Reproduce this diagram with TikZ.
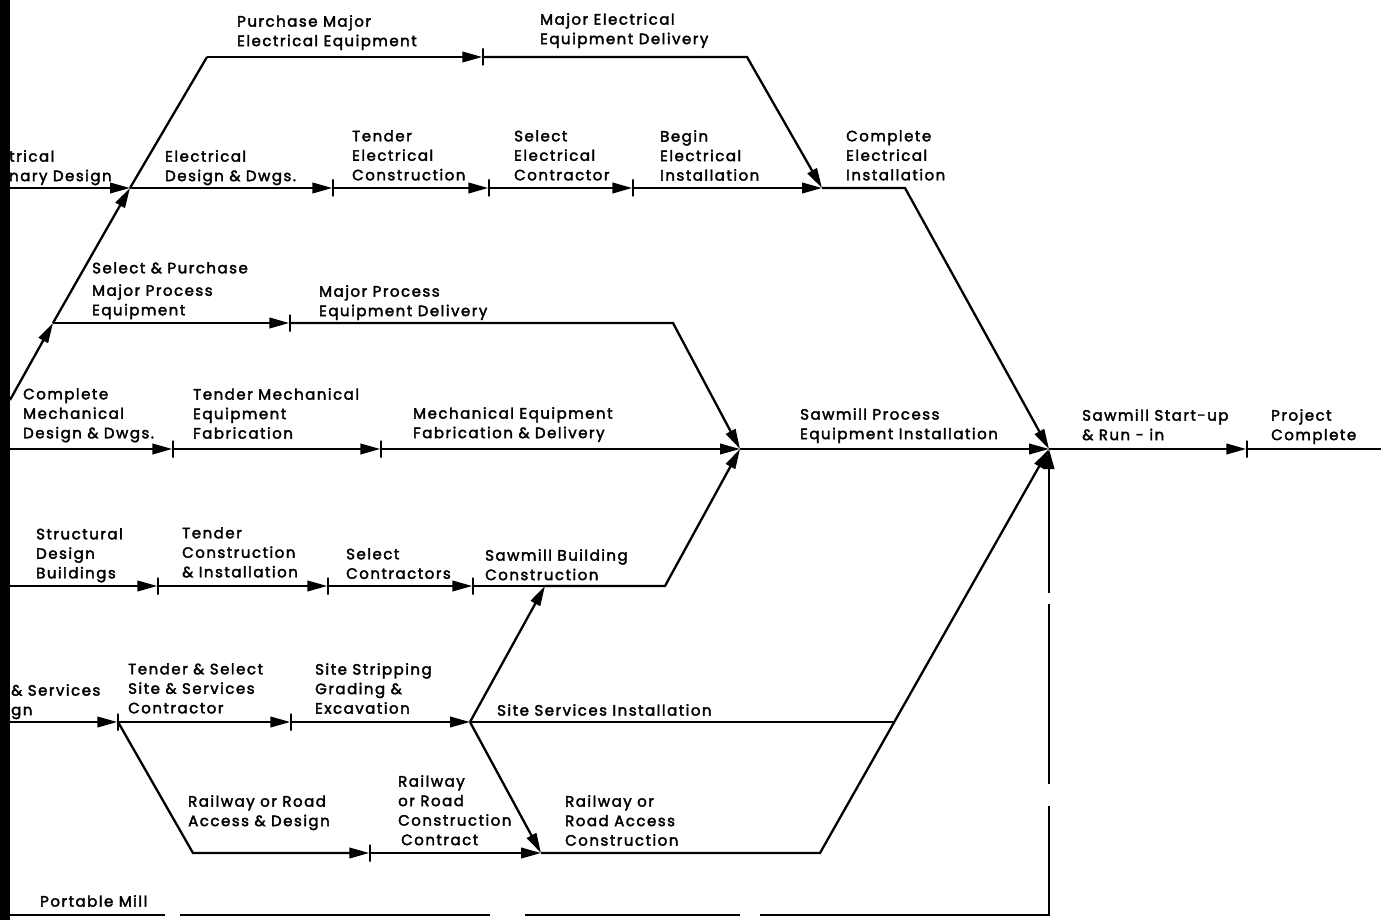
\documentclass[tikz,border=0pt]{standalone}
\usepackage{fontspec}
\setmainfont{Poppins}[LetterSpace=10, FakeBold=2.4]
\usetikzlibrary{arrows.meta}
\begin{document}
\begin{tikzpicture}[x=1pt,y=-1pt,
  lbl/.style={anchor=north west, inner sep=0pt, align=left, font=\fontsize{15}{19.5}\selectfont},
  act/.style={line width=2.3pt, -{Triangle[length=20pt,width=10.5pt]}},
  ln/.style={line width=2.3pt},
  ev/.style={draw, line width=1.4pt, rectangle, minimum height=17pt, minimum width=0pt, inner sep=0pt},
]
\useasboundingbox (0,0) rectangle (1381,920);
% ---------- events and junctions ----------
\coordinate (L2) at (10,188);
\coordinate (D0) at (10,400);
\coordinate (P3) at (53,323);
\coordinate (J0) at (130,188);
\coordinate (A1) at (207,57);
\node[ev] (E1) at (483,57) {};
\coordinate (A2) at (747,57);
\coordinate (J1) at (822,188);
\node[ev] (E2a) at (333,188) {};
\node[ev] (E2b) at (489,188) {};
\node[ev] (E2c) at (633,188) {};
\coordinate (B2) at (905,188);
\coordinate (J3) at (1049,449);
\node[ev] (E3) at (290,323) {};
\coordinate (B3) at (673,323);
\coordinate (J2) at (740,449);
\coordinate (L4) at (10,449);
\node[ev] (E4a) at (173,449) {};
\node[ev] (E4b) at (381,449) {};
\node[ev] (E4c) at (1247,449) {};
\coordinate (R4) at (1381,449);
\coordinate (L5) at (10,586);
\node[ev] (E5a) at (158,586) {};
\node[ev] (E5b) at (328,586) {};
\node[ev] (E5c) at (473,586) {};
\coordinate (K5) at (545,586);
\coordinate (B5) at (665,586);
\coordinate (L6) at (10,722);
\node[ev] (E6a) at (118,722) {};
\node[ev] (E6b) at (291,722) {};
\coordinate (J6) at (470,722);
\coordinate (M6) at (895,722);
\coordinate (B7a) at (193,853);
\node[ev] (E7) at (370,853) {};
\coordinate (J7) at (541,853);
\coordinate (B7) at (820,853);
\coordinate (L8) at (10,915);
\coordinate (B8) at (1049,915);
% ---------- connectors ----------
\draw[act] (L2) -- (J0);
\draw[act] (D0) -- (P3);
\draw[act] (P3) -- (J0);
\draw[ln] (J0) -- (A1);
\draw[act] (A1) -- (E1);
\draw[act] (E1) -- (A2) -- (J1);
\draw[act] (J0) -- (E2a);
\draw[act] (E2a) -- (E2b);
\draw[act] (E2b) -- (E2c);
\draw[act] (E2c) -- (J1);
\draw[act] (J1) -- (B2) -- (J3);
\draw[act] (P3) -- (E3);
\draw[act] (E3) -- (B3) -- (J2);
\draw[act] (L4) -- (E4a);
\draw[act] (E4a) -- (E4b);
\draw[act] (E4b) -- (J2);
\draw[act] (J2) -- (J3);
\draw[act] (J3) -- (E4c);
\draw[ln] (E4c) -- (R4);
\draw[act] (L5) -- (E5a);
\draw[act] (E5a) -- (E5b);
\draw[act] (E5b) -- (E5c);
\draw[ln] (E5c) -- (K5);
\draw[act] (K5) -- (B5) -- (J2);
\draw[act] (L6) -- (E6a);
\draw[act] (E6a) -- (E6b);
\draw[act] (E6b) -- (J6);
\draw[ln] (J6) -- (M6);
\draw[act] (J6) -- (K5);
\draw[act] (J6) -- (J7);
\draw[act] (E6a.center) -- (B7a) -- (E7);
\draw[act] (E7) -- (J7);
\draw[act] (J7) -- (B7) -- (J3);
\draw[act, dash pattern=on 155pt off 15pt on 310pt off 35pt on 215pt off 20pt on 398pt off 22pt on 180pt off 11pt on 300pt] (L8) -- (B8) -- (J3);
% ---------- labels ----------
\node[lbl] (t1) at (237,15) {Purchase Major\\Electrical Equipment};
\node[lbl] (t2) at (540,13) {Major Electrical\\Equipment Delivery};
\node[lbl] (t3) at (9,150) {trical\\nary Design};
\node[lbl] (t4) at (165,150) {Electrical\\Design \& Dwgs.};
\node[lbl] (t5) at (352,130) {Tender\\Electrical\\Construction};
\node[lbl] (t6) at (514,130) {Select\\Electrical\\Contractor};
\node[lbl] (t7) at (660,130) {Begin\\Electrical\\Installation};
\node[lbl] (t8) at (846,130) {Complete\\Electrical\\Installation};
\node[lbl] (t9) at (92,262) {Select \& Purchase\\[3pt]Major Process\\Equipment};
\node[lbl] (t10) at (319,285) {Major Process\\Equipment Delivery};
\node[lbl] (t11) at (23,388) {Complete\\Mechanical\\Design \& Dwgs.};
\node[lbl] (t12) at (193,388) {Tender Mechanical\\Equipment\\Fabrication};
\node[lbl] (t13) at (413,407) {Mechanical Equipment\\Fabrication \& Delivery};
\node[lbl] (t14) at (800,408) {Sawmill Process\\Equipment Installation};
\node[lbl] (t15) at (1082,409) {Sawmill Start-up\\\& Run - in};
\node[lbl] (t16) at (1271,409) {Project\\Complete};
\node[lbl] (t17) at (36,528) {Structural\\Design\\Buildings};
\node[lbl] (t18) at (182,527) {Tender\\Construction\\\& Installation};
\node[lbl] (t19) at (346,548) {Select\\Contractors};
\node[lbl] (t20) at (485,549) {Sawmill Building\\Construction};
\node[lbl] (t21) at (11,684) {\& Services\\gn};
\node[lbl] (t22) at (128,663) {Tender \& Select\\Site \& Services\\Contractor};
\node[lbl] (t23) at (315,663) {Site Stripping\\Grading \&\\Excavation};
\node[lbl] (t24) at (497,704) {Site Services Installation};
\node[lbl] (t25) at (188,795) {Railway or Road\\Access \& Design};
\node[lbl] (t26) at (398,775) {Railway\\or Road\\Construction\\\hspace{3pt}Contract};
\node[lbl] (t27) at (565,795) {Railway or\\Road Access\\Construction};
\node[lbl] (t28) at (40,895) {Portable Mill};
% ---------- left margin bar ----------
\fill[black] (0,0) rectangle (10,920);
\end{tikzpicture}
\end{document}
